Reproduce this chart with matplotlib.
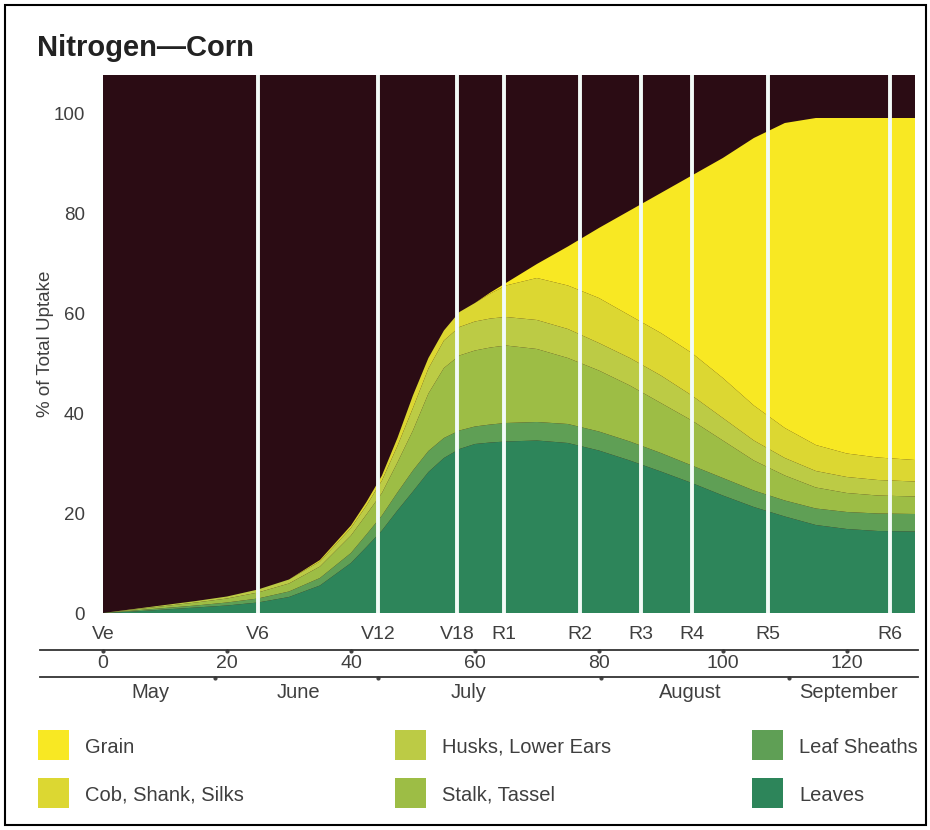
import matplotlib
matplotlib.use("Agg")
import matplotlib.pyplot as plt
from matplotlib.lines import Line2D
from matplotlib.patches import Rectangle

plt.rcParams["font.family"] = ["Liberation Sans", "DejaVu Sans"]

# days after emergence
days = [0, 5, 10, 15, 20, 25, 30, 35, 40, 42.5, 45, 47.5, 50, 52.5, 55, 57.5, 60, 62.5,
        65, 70, 75, 80, 85, 90, 95, 100, 105, 110, 115, 120, 125, 131]

# % of total N uptake held in each plant part
leaves = [0, 0.3, 0.7, 1.1, 1.5, 2.1, 3.2, 5.5, 10.0, 13.2, 16.5, 20.5, 24.3, 28.2, 31.0,
          32.8, 33.8, 34.1, 34.3, 34.5, 34.0, 32.5, 30.5, 28.3, 26.0, 23.5, 21.2, 19.3,
          17.6, 16.8, 16.4, 16.3]
leaf_sheaths = [0, 0.2, 0.3, 0.4, 0.6, 0.8, 1.1, 1.5, 2.0, 2.5, 3.0, 3.6, 4.2, 4.2, 4.0,
                3.7, 3.5, 3.6, 3.7, 3.7, 3.8, 3.8, 3.8, 3.7, 3.5, 3.5, 3.3, 3.2, 3.3, 3.4,
                3.5, 3.5]
stalk_tassel = [0, 0.2, 0.4, 0.6, 0.8, 1.2, 1.6, 2.3, 3.5, 4.0, 4.5, 6.0, 8.0, 11.5, 14.0,
                15.0, 15.2, 15.4, 15.5, 14.6, 13.2, 12.2, 11.2, 10.0, 9.0, 7.5, 6.0, 5.0,
                4.2, 3.8, 3.6, 3.5]
husks_lower_ears = [0, 0.1, 0.2, 0.3, 0.4, 0.6, 0.8, 1.0, 1.5, 1.8, 2.5, 3.3, 4.5, 5.0,
                    5.5, 5.7, 5.8, 5.8, 5.7, 5.8, 5.8, 5.5, 5.5, 5.5, 5.0, 4.5, 4.0, 3.5,
                    3.3, 3.2, 3.1, 3.0]
cob_shank_silks = [0, 0, 0, 0, 0, 0, 0, 0.3, 0.5, 0.7, 1.0, 1.6, 2.5, 2.1, 2.0, 3.0, 3.7,
                   5.0, 6.3, 8.4, 8.7, 9.0, 8.5, 8.5, 8.5, 8.0, 7.0, 6.0, 5.2, 4.7, 4.5, 4.3]
grain = [0, 0, 0, 0, 0, 0, 0, 0, 0, 0, 0, 0, 0, 0, 0, 0, 0, 0.2, 0.5, 2.8,
         7.8, 14.0, 21.0, 28.0, 35.5, 44.0, 53.5, 61.0, 65.4, 67.1, 67.9, 68.4]

stage_names = ["Ve", "V6", "V12", "V18", "R1", "R2", "R3", "R4", "R5", "R6"]
stage_days = [0, 25.0, 44.4, 57.1, 64.7, 76.9, 86.8, 95.0, 107.3, 126.9]

day_ticks = [0, 20, 40, 60, 80, 100, 120]
month_names = ["May", "June", "July", "August", "September"]
month_label_days = [7.7, 31.5, 59.0, 94.8, 120.3]
month_edges = [18.0, 44.4, 80.3, 110.6]

layer_names = ["Leaves", "Leaf Sheaths", "Stalk, Tassel", "Husks, Lower Ears",
               "Cob, Shank, Silks", "Grain"]
layer_colors = ["#2d855a", "#5f9f55", "#9dbd45", "#bccb45", "#dcd732", "#f8e823"]
BG = "#2b0c14"
TXT = "#3f3f3f"

fig = plt.figure(figsize=(9.3, 8.3), dpi=100)
ax = fig.add_axes([103 / 930, 1 - 613 / 830, 812 / 930, 538 / 830])
ax.set_facecolor(BG)
ax.stackplot(days, leaves, leaf_sheaths, stalk_tassel, husks_lower_ears,
             cob_shank_silks, grain, colors=layer_colors, linewidth=0)
ax.set_xlim(0, 131)
ax.set_ylim(0, 107.6)

for d in stage_days[1:]:
    ax.axvline(d, color="#f2fbf7", lw=2.8)

for s in ax.spines.values():
    s.set_visible(False)
ax.set_xticks([])
ax.set_yticks([0, 20, 40, 60, 80, 100])
ax.tick_params(axis="y", length=0, pad=13, labelsize=13.5, labelcolor=TXT)
ax.set_ylabel("% of Total Uptake", fontsize=13.5, color=TXT, labelpad=0)

xt = ax.get_xaxis_transform()
for name, d in zip(stage_names, stage_days):
    ax.text(d, -0.04, name, transform=xt, ha="center", va="center",
            fontsize=14, color=TXT, clip_on=False)
for d in day_ticks:
    ax.text(d, -0.093, str(d), transform=xt, ha="center", va="center",
            fontsize=14, color=TXT, clip_on=False)
    ax.plot([d], [-0.0705], transform=xt, marker="o", ms=2, color="#444", clip_on=False)
for name, d in zip(month_names, month_label_days):
    ax.text(d, -0.147, name, transform=xt, ha="center", va="center",
            fontsize=14.5, color=TXT, clip_on=False)
for d in month_edges:
    ax.plot([d], [-0.1205], transform=xt, marker="o", ms=2, color="#444", clip_on=False)

for yy in [1 - 650 / 830, 1 - 677 / 830]:
    fig.add_artist(Line2D([40 / 930, 918 / 930], [yy, yy], transform=fig.transFigure,
                          color="#333", lw=1.3))

fig.text(37 / 930, 1 - 48 / 830, "Nitrogen\u2014Corn", fontsize=21, fontweight="bold",
         color="#222", ha="left", va="center")

# legend laid out as in the original, three columns by two rows
legend_order = [5, 4, 3, 2, 1, 0]
col_x = [38, 395, 752]
row_y = [745, 793]
for i, idx in enumerate(legend_order):
    cx = col_x[i // 2]
    cy = row_y[i % 2]
    fig.add_artist(Rectangle((cx / 930, 1 - (cy + 15) / 830), 31 / 930, 30 / 830,
                             transform=fig.transFigure, color=layer_colors[idx], lw=0))
    fig.text((cx + 47) / 930, 1 - (cy + 2) / 830, layer_names[idx], fontsize=14.5,
             color=TXT, ha="left", va="center")

fig.add_artist(Rectangle((5 / 930, 5 / 830), 921 / 930, 820 / 830, transform=fig.transFigure,
                         fill=False, ec="black", lw=1.5))

fig.savefig("out.png", dpi=100)
